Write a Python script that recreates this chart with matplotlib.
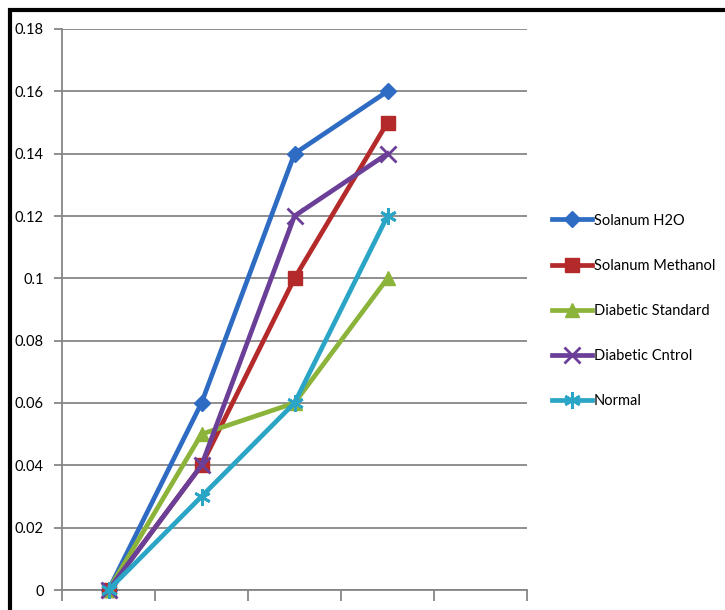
import matplotlib.pyplot as plt
from matplotlib.patches import Rectangle

# data
series = ['Solanum H2O', 'Solanum Methanol', 'Diabetic Standard', 'Diabetic Cntrol', 'Normal']
solanum_h2o = [0, 0.06, 0.14, 0.16]
solanum_methanol = [0, 0.04, 0.10, 0.15]
diabetic_standard = [0, 0.05, 0.06, 0.10]
diabetic_cntrol = [0, 0.04, 0.12, 0.14]
normal = [0, 0.03, 0.06, 0.12]
n_categories = 5  # last category slot is empty

values = [solanum_h2o, solanum_methanol, diabetic_standard, diabetic_cntrol, normal]
colors = ['#2E6BC2', '#B42A2A', '#8CB43A', '#6B3F98', '#2BA5C6']
markers = ['D', 's', '^', 'x', (6, 2, 0)]
msizes = [8, 10, 10, 11, 12]

plt.rcParams['font.family'] = ['Lato', 'DejaVu Sans']

fig = plt.figure(figsize=(7.25, 6.1), dpi=100)
ax = fig.add_axes([62/725, 1-590/610, (527-62)/725, (590-29)/610])

for name, vals, c, m, ms in zip(series, values, colors, markers, msizes):
    xs = [i + 0.5 for i in range(len(vals))]
    ax.plot(xs, vals, color=c, lw=3.4, marker=m, markersize=ms,
            markeredgewidth=2 if m in ('x', (6, 2, 0)) else 1, markeredgecolor=c,
            label=name, clip_on=False, zorder=3)

ax.set_xlim(0, n_categories)
ax.set_ylim(0, 0.18)
ax.set_yticks([i * 0.02 for i in range(10)])
ax.set_yticklabels(['0', '0.02', '0.04', '0.06', '0.08', '0.1', '0.12', '0.14', '0.16', '0.18'])
ax.set_xticks(range(n_categories + 1))
ax.set_xticklabels([])
ax.yaxis.grid(True, color='#868686', lw=1.3)
ax.set_axisbelow(True)
for s in ['top', 'right']:
    ax.spines[s].set_visible(False)
for s in ['left', 'bottom']:
    ax.spines[s].set_color('#868686')
    ax.spines[s].set_linewidth(1.3)
ax.tick_params(axis='y', colors='#868686', length=6, width=1.3, labelsize=10.5, labelcolor='black', pad=7)
ax.tick_params(axis='x', colors='#868686', length=8, width=1.3)

leg = fig.legend(loc='center left', bbox_to_anchor=(539/725, 1-311/610), frameon=False,
                 fontsize=10.5, handlelength=2.75, handletextpad=0.1, labelspacing=2.14)

# outer black frame (cropped on the right and bottom in the reference)
fig.patches.append(Rectangle((10/725, -0.1), 1.2, 1-10/610 + 0.1, transform=fig.transFigure,
                             fill=False, edgecolor='black', lw=3))

fig.savefig('out.png', dpi=100)
